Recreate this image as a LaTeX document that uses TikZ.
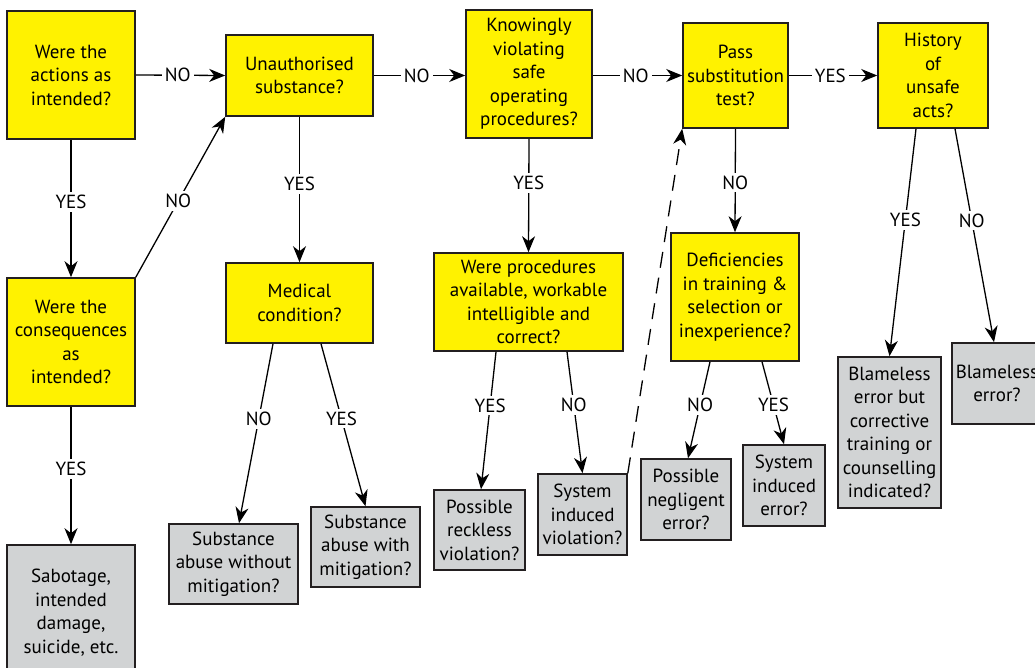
\documentclass[tikz,border=0pt]{standalone}
\usepackage{fontspec}
\setmainfont{PT Sans}
\usetikzlibrary{arrows.meta}
\definecolor{yel}{HTML}{FFF200}
\definecolor{gry}{HTML}{D1D3D4}
\definecolor{edge}{HTML}{231F20}
\begin{document}
\begin{tikzpicture}[x=1pt,y=-1pt,
  box/.style={draw=edge, line width=1.6pt, align=center, inner sep=0pt, font=\fontsize{19}{23.5}\selectfont},
  ybox/.style={box, fill=yel},
  gbox/.style={box, fill=gry},
  conn/.style={draw=black, line width=1.3pt, -{Stealth[length=16pt,width=13pt,inset=5pt]}},
  dconn/.style={conn, dash pattern=on 16pt off 10pt},
  lbl/.style={fill=white, inner sep=3pt, font=\fontsize{19}{23.5}\selectfont, text=black}]
\useasboundingbox (0,0) rectangle (1035,668);
\clip (0,0) rectangle (1035,668);
\fill[white] (0,0) rectangle (1035,668);

% decision boxes
\node[ybox, minimum width=128pt, minimum height=128pt] (A) at (71,75) {Were the\\actions as\\intended?};
\node[ybox, minimum width=147pt, minimum height=81pt] (B) at (299.5,75.5) {Unauthorised\\substance?};
\node[ybox, minimum width=126pt, minimum height=128pt] (K) at (529,74) {Knowingly\\violating\\safe\\operating\\procedures?};
\node[ybox, minimum width=105pt, minimum height=105pt] (P) at (735.5,75.5) {Pass\\substitution\\test?};
\node[ybox, minimum width=110pt, minimum height=105pt] (H) at (933,75.5) {History\\of\\unsafe\\acts?};
\node[ybox, minimum width=128pt, minimum height=128pt] (C) at (71,342) {Were the\\consequences\\as\\intended?};
\node[ybox, minimum width=147pt, minimum height=80pt] (M) at (299.5,303) {Medical\\condition?};
\node[ybox, minimum width=189pt, minimum height=98pt] (W) at (528.5,302) {Were procedures\\available, workable\\intelligible and\\correct?};
\node[ybox, minimum width=128pt, minimum height=128pt] (D) at (735,297) {Deficiencies\\in training \&\\selection or\\inexperience?};

% outcome boxes
\node[gbox, minimum width=128pt, minimum height=135pt] (S1) at (71,612.5) {Sabotage,\\intended\\damage,\\suicide, etc.};
\node[gbox, minimum width=129pt, minimum height=80pt] (S2) at (233.5,564) {Substance\\abuse without\\mitigation?};
\node[gbox, minimum width=109pt, minimum height=80pt] (S3) at (365.5,547) {Substance\\abuse with\\mitigation?};
\node[gbox, minimum width=91pt, minimum height=80pt] (R) at (479.5,530) {Possible\\reckless\\violation?};
\node[gbox, minimum width=89pt, minimum height=81pt] (V) at (582.5,514.5) {System\\induced\\violation?};
\node[gbox, minimum width=90pt, minimum height=81pt] (N) at (686,499.5) {Possible\\negligent\\error?};
\node[gbox, minimum width=82pt, minimum height=81pt] (E) at (784,485.5) {System\\induced\\error?};
\node[gbox, minimum width=103pt, minimum height=151pt] (BB) at (889.5,432.5) {Blameless\\error but\\corrective\\training or\\counselling\\indicated?};
\node[gbox, minimum width=90pt, minimum height=81pt] (BL) at (997,383.5) {Blameless\\error?};

% horizontal connectors
\draw[conn] (A.east) -- node[lbl, pos=0.47] (lAB) {NO} (B.west);
\draw[conn] (B.east) -- node[lbl, pos=0.47] (lBK) {NO} (B.east -| K.west);
\draw[conn] (K.east |- P.west) -- node[lbl, pos=0.48] (lKP) {NO} (P.west);
\draw[conn] (P.east) -- node[lbl, pos=0.47] (lPH) {YES} (H.west);

% vertical connectors
\draw[conn] (A.south) -- node[lbl, pos=0.45] (lAC) {YES} (C.north);
\draw[conn] (C.north east) -- node[lbl, pos=0.475] (lCB) {NO} (B.south west);
\draw[conn] (C.south) -- node[lbl, pos=0.45] (lCS) {YES} (S1.north);
\draw[conn] (B.south) -- node[lbl, pos=0.46] (lBM) {YES} (M.north);
\draw[conn] (K.south) -- node[lbl, pos=0.39] (lKW) {YES} (W.north);
\draw[conn] (P.south) -- node[lbl, pos=0.52] (lPD) {NO} (D.north);

% diagonal connectors
\draw[conn] ([xshift=-26.5pt]M.south) -- node[lbl, pos=0.42] (lMS2) {NO} ([xshift=5.5pt]S2.north);
\draw[conn] ([xshift=21.5pt]M.south) -- node[lbl, pos=0.46] (lMS3) {YES} (S3.north);
\draw[conn] ([xshift=-32.5pt]W.south) -- node[lbl, pos=0.39] (lWR) {YES} ([xshift=1.5pt]R.north);
\draw[conn] ([xshift=38.5pt]W.south) -- node[lbl, pos=0.44] (lWV) {NO} (V.north);
\draw[conn] ([xshift=-25pt]D.south) -- node[lbl, pos=0.45] (lDN) {NO} ([xshift=2pt]N.north);
\draw[conn] ([xshift=27pt]D.south) -- node[lbl, pos=0.52] (lDE) {YES} (E.north);
\draw[conn] ([xshift=-17pt]H.south) -- node[lbl, pos=0.40] (lHB) {YES} (BB.north);
\draw[conn] ([xshift=22pt]H.south) -- node[lbl, pos=0.43] (lHL) {NO} ([xshift=-3pt]BL.north);

% dashed feedback
\draw[dconn] (V.north east) -- (P.south west);
\end{tikzpicture}
\end{document}
